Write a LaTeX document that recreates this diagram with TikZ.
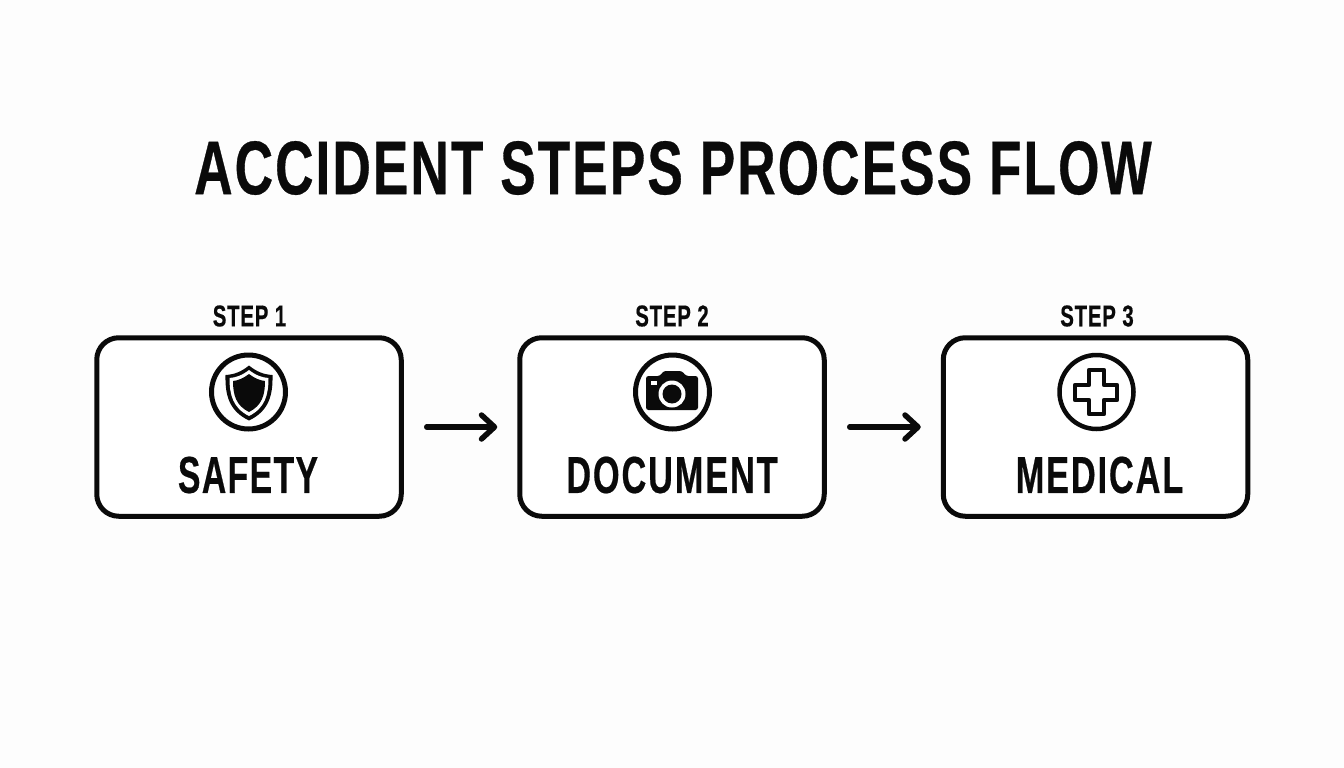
\documentclass[tikz,border=0pt]{standalone}
\usepackage{fontspec}
\usetikzlibrary{arrows.meta}
\setmainfont{Liberation Sans}[BoldFont={Liberation Sans Bold}]
\newfontface\titlefont{Liberation Sans Bold}[FakeStretch=0.70,LetterSpace=2.7,FakeBold=0.4]
\newfontface\labelfont{Liberation Sans Bold}[FakeStretch=0.66,LetterSpace=3.6,FakeBold=0.4]
\newfontface\shortlabelfont{Liberation Sans Bold}[FakeStretch=0.65,LetterSpace=2.6,FakeBold=0.4]
\newfontface\stepfont{Liberation Sans Bold}[FakeStretch=0.68,LetterSpace=2.6,FakeBold=0.4]
\definecolor{ink}{HTML}{0A0A0A}
\definecolor{paper}{HTML}{FDFDFD}
\tikzset{
 x=1pt,y=-1pt,
 card/.style={draw=ink,line width=5pt,rounded corners=22pt,minimum width=304.5pt,minimum height=178.5pt,inner sep=0pt,fill=white},
 ring/.style={draw=ink,line width=5pt,circle,minimum size=74pt,inner sep=0pt},
 flow/.style={draw=ink,line width=5.5pt,line cap=round,shorten <=23pt,shorten >=20pt,-{Straight Barb[length=13pt,width=24pt,round]}},
 maintitle/.style={text=ink,font={\titlefont\fontsize{76}{76}\selectfont},inner sep=0pt},
 steplabel/.style={text=ink,font={\stepfont\fontsize{30}{30}\selectfont},inner sep=0pt},
 cardlabel/.style={text=ink,font={\labelfont\fontsize{52}{52}\selectfont},inner sep=0pt},
 shortcardlabel/.style={text=ink,font={\shortlabelfont\fontsize{52}{52}\selectfont},inner sep=0pt},
}
\begin{document}
\begin{tikzpicture}
\useasboundingbox (0,0) rectangle (1344,768);
\fill[paper] (0,0) rectangle (1344,768);
\node[maintitle] (title) at (673,168) {ACCIDENT STEPS PROCESS FLOW};
\node[card] (box1) at (249,427) {};
\node[card] (box2) at (672,427) {};
\node[card] (box3) at (1095.5,427) {};
\node[steplabel] (s1) at (249.5,316) {STEP 1};
\node[steplabel] (s2) at (672,316) {STEP 2};
\node[steplabel] (s3) at (1097,316) {STEP 3};
\node[shortcardlabel] (l1) at (248,475) {SAFETY};
\node[cardlabel] (l2) at (672,475) {DOCUMENT};
\node[cardlabel] (l3) at (1099.5,475) {MEDICAL};
\node[ring] (r1) at (248.5,392) {};
\node[ring] (r2) at (672.5,392) {};
\node[ring,line width=4.5pt] (r3) at (1096.5,392) {};
\draw[flow] (box1) -- (box2);
\draw[flow] (box2) -- (box3);
% shield
\fill[ink] (249,365.5) .. controls (241,372) and (234,374.5) .. (225.5,375)
  .. controls (225,395) and (229,411) .. (249,420.5)
  .. controls (269,411) and (273,395) .. (272.5,375)
  .. controls (264,374.5) and (257,372) .. (249,365.5) -- cycle;
\fill[white] (249,370) .. controls (242,375.5) and (236,377.5) .. (229.5,378)
  .. controls (229.5,395) and (233,408) .. (249,416)
  .. controls (265,408) and (268.5,395) .. (268.5,378)
  .. controls (262,377.5) and (256,375.5) .. (249,370) -- cycle;
\fill[ink] (249,374) .. controls (243,378.5) and (238,380.5) .. (233,381)
  .. controls (233,395) and (236,405.5) .. (249,412)
  .. controls (262,405.5) and (265,395) .. (265,381)
  .. controls (260,380.5) and (255,378.5) .. (249,374) -- cycle;
% camera
\fill[ink,rounded corners=2.5pt] (646,376) -- (660,376) -- (663.5,371) -- (682,371) -- (686,376) -- (698,376) -- (698,410) -- (646,410) -- cycle;
\fill[white] (672,394) circle[radius=13.5pt];
\fill[ink] (672,394) circle[radius=9.5pt];
\fill[white] (651,381) rectangle (657,384.5);
% cross
\draw[ink,line width=4.5pt,line join=round] (1089,370) -- (1104,370) -- (1104,385) -- (1117,385) -- (1117,400) -- (1104,400) -- (1104,414) -- (1089,414) -- (1089,400) -- (1075,400) -- (1075,385) -- (1089,385) -- cycle;
\end{tikzpicture}
\end{document}
